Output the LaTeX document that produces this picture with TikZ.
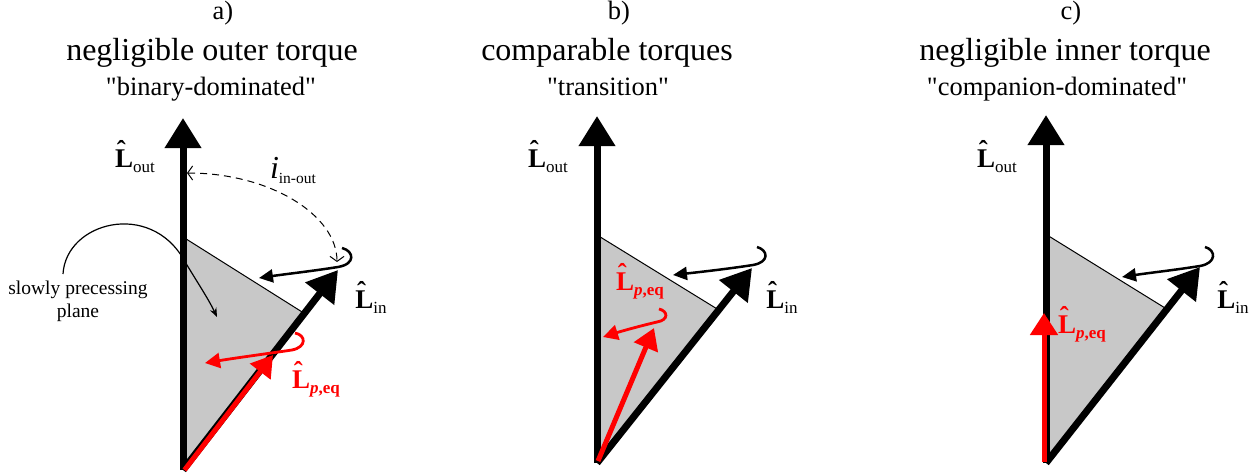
\documentclass[tikz,border=0pt]{standalone}
\usepackage{fontspec}
\setmainfont{Liberation Serif}[Ligatures=TeXOff]
\usepackage{amsmath}
\usetikzlibrary{arrows.meta,calc}
\newcommand\hatLb{\textbf{\ooalign{L\cr\hidewidth\raisebox{0.3em}{\char"02C6}\kern0.2em\hidewidth\cr}}}
\newcommand\vecLab[1]{{\fontsize{27}{30}\selectfont\hatLb}{\fontsize{17}{20}\selectfont\raisebox{-5pt}{#1}}}
\definecolor{planegray}{RGB}{200,200,200}
\tikzset{
  paneltag/.style={anchor=base, font=\fontsize{26.5}{30}\selectfont},
  paneltitle/.style={anchor=base, font=\fontsize{32}{36}\selectfont},
  panelsub/.style={anchor=base, font=\fontsize{26.5}{30}\selectfont},
  bigarrow/.style={line width=7pt, -{Triangle[width=35pt,length=30pt]}},
  redarrow/.style={draw=red, line width=5pt, -{Triangle[width=25pt,length=21pt]}},
  precess/.style={line width=2.5pt, -{Triangle[width=13pt,length=14pt]}},
  redprecess/.style={draw=red, line width=2.8pt, -{Triangle[width=15pt,length=15pt]}},
  plane/.style={fill=planegray},
  planeedge/.style={line width=1pt},
  veclabel/.style={inner sep=0pt},
  redlabel/.style={inner sep=0pt, text=red},
  anglearc/.style={line width=1pt, dash pattern=on 7pt off 5pt,
     {Straight Barb[length=5pt,width=14pt]}-{Straight Barb[length=5pt,width=14pt]}},
  pointer/.style={line width=1.2pt, -{Stealth[length=9pt,width=7pt]}},
  smalltext/.style={align=center, font=\fontsize{19.5}{23}\selectfont, inner sep=0pt}
}
\begin{document}
\begin{tikzpicture}[x=1pt,y=-1pt]
\useasboundingbox (0,0) rectangle (1255,476);

% ---------- titles ----------
\node[paneltag] (taga) at (223,20) {a)};
\node[paneltitle] (titlea) at (212,61) {negligible outer torque};
\node[panelsub] (suba) at (211,96) {"binary-dominated"};
\node[paneltag] (tagb) at (619,20) {b)};
\node[paneltitle] (titleb) at (607,61) {comparable torques};
\node[panelsub] (subb) at (608,96) {"transition"};
\node[paneltag] (tagc) at (1071,20) {c)};
\node[paneltitle] (titlec) at (1065,61) {negligible inner torque};
\node[panelsub] (subc) at (1057,96) {"companion-dominated"};

% ================= panel a =================
\coordinate (Oa) at (183,470);
\coordinate (Ua) at (183,118);
\coordinate (Ta) at (338,270);
\coordinate (Pa) at (183,237);
\coordinate (Va) at ($(Oa)!0.783!(Ta)$);
\fill[plane] (Pa) -- (Va) -- (Oa) -- cycle;
\draw[planeedge] (Pa) -- (Va);
\draw[bigarrow] (Oa) -- (Ua);
\draw[bigarrow] (Oa) -- (Ta);
\coordinate (Ra0) at (184.5,470);
\coordinate (Ra) at (273,355);
\draw[redarrow] (Ra0) -- (Ra);
% precession of L_in
\coordinate (ha1) at ($(Ta)+(4,-22)$);
\coordinate (ha2) at ($(Ta)+(0,-3)$);
\coordinate (ha3) at ($(Ta)+(-79,8)$);
\draw[precess] (ha1) .. controls ($(Ta)+(16,-19)$) and ($(Ta)+(18,-6)$) .. (ha2)
   .. controls ($(Ta)+(-25,1)$) and ($(Ta)+(-52,4)$) .. (ha3);
% precession of L_p,eq
\coordinate (ra1) at (295,333);
\coordinate (ra2) at (292,350);
\coordinate (ra3) at (205,363);
\draw[redprecess] (ra1) .. controls (306,335) and (307,347) .. (ra2)
   .. controls (265,354) and (235,358) .. (ra3);
% angle
\coordinate (ia1) at (187,173);
\coordinate (ia2) at (337,262);
\draw[anglearc] (ia1) .. controls (270,173) and (337,215) .. (ia2);
% labels
\node[veclabel] (Louta) at (135,161) {\vecLab{out}};
\node[veclabel] (Lina) at (371,302) {\vecLab{in}};
\node[redlabel] (Lpa) at (316,384) {\vecLab{\textbf{\textit{p},eq}}};
\node[inner sep=0pt] (ang) at (293,170) {{\fontsize{32}{34}\selectfont\textit{i}}{\fontsize{15.5}{18}\selectfont\raisebox{-5pt}{in-out}}};
\node[smalltext] (spp) at (78,301) {slowly precessing\\plane};
\coordinate (sp1) at (63,274);
\coordinate (sp2) at (217,317);
\draw[pointer] (sp1) .. controls (66,222) and (150,200) .. (184,260)
   .. controls (197,282) and (208,298) .. (sp2);

% ================= panel b =================
\coordinate (Ob) at (597,463);
\coordinate (Ub) at (597,116);
\coordinate (Tb) at (752,268);
\coordinate (Pb) at (597,235);
\coordinate (Vb) at ($(Ob)!0.785!(Tb)$);
\fill[plane] (Pb) -- (Vb) -- (Ob) -- cycle;
\draw[planeedge] (Pb) -- (Vb);
\draw[bigarrow] (Ob) -- (Ub);
\draw[bigarrow] (Ob) -- (Tb);
\coordinate (hb1) at ($(Tb)+(5,-21)$);
\coordinate (hb2) at ($(Tb)+(1,-3)$);
\coordinate (hb3) at ($(Tb)+(-79,7)$);
\draw[precess] (hb1) .. controls ($(Tb)+(16,-18)$) and ($(Tb)+(18,-6)$) .. (hb2)
   .. controls ($(Tb)+(-25,1)$) and ($(Tb)+(-52,4)$) .. (hb3);
\coordinate (Rb0) at (598,461);
\coordinate (Rb) at (654,328);
\draw[redarrow] (Rb0) -- (Rb);
\coordinate (rb1) at (659,309);
\coordinate (rb2) at (657,322);
\coordinate (rb3) at (603,337);
\draw[redprecess] (rb1) .. controls (668,311) and (669,320) .. (rb2)
   .. controls (640,326) and (622,331) .. (rb3);
\node[veclabel] (Loutb) at (548,161) {\vecLab{out}};
\node[veclabel] (Linb) at (782,302) {\vecLab{in}};
\node[redlabel] (Lpb) at (640,286) {\vecLab{\textbf{\textit{p},eq}}};

% ================= panel c =================
\coordinate (Oc) at (1046,463);
\coordinate (Uc) at (1046,115);
\coordinate (Tc) at (1200,267);
\coordinate (Pc) at (1047,235);
\coordinate (Vc) at ($(Oc)!0.785!(Tc)$);
\fill[plane] (Pc) -- (Vc) -- (Oc) -- cycle;
\draw[planeedge] (Pc) -- (Vc);
\draw[bigarrow] (Oc) -- (Uc);
\draw[bigarrow] (Oc) -- (Tc);
\coordinate (hc1) at ($(Tc)+(5,-20)$);
\coordinate (hc2) at ($(Tc)+(0,-1)$);
\coordinate (hc3) at ($(Tc)+(-78,10)$);
\draw[precess] (hc1) .. controls ($(Tc)+(16,-17)$) and ($(Tc)+(17,-4)$) .. (hc2)
   .. controls ($(Tc)+(-25,3)$) and ($(Tc)+(-52,6)$) .. (hc3);
\coordinate (Rc0) at (1044,462);
\coordinate (Rc) at (1044,313);
\draw[redarrow, -{Triangle[width=27pt,length=22pt]}] (Rc0) -- (Rc);
\node[veclabel] (Loutc) at (997,161) {\vecLab{out}};
\node[veclabel] (Linc) at (1233,302) {\vecLab{in}};
\node[redlabel] (Lpc) at (1082,329) {\vecLab{\textbf{\textit{p},eq}}};
\end{tikzpicture}
\end{document}
